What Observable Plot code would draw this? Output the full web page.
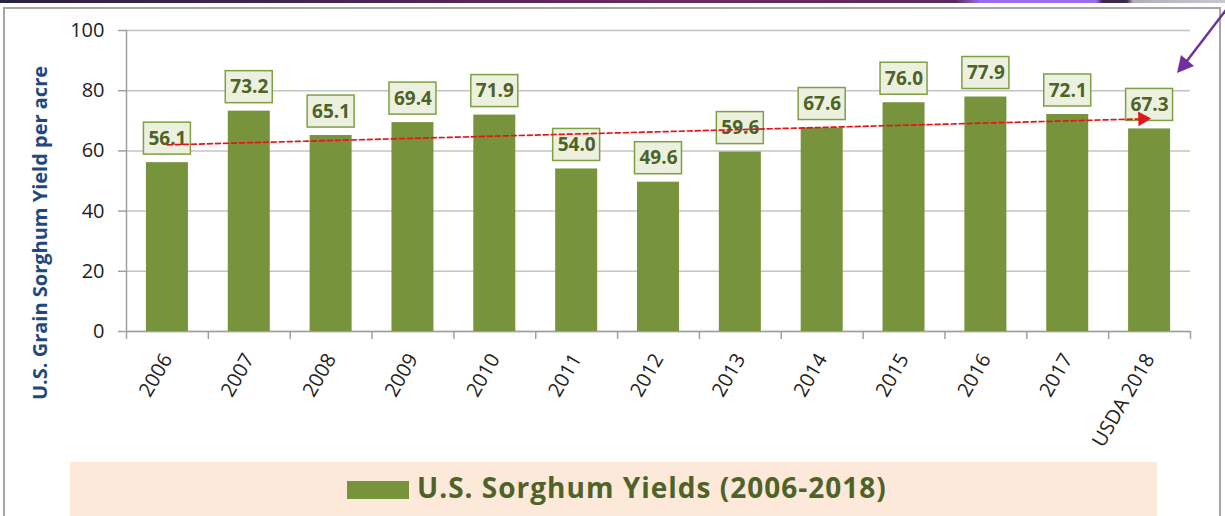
<!DOCTYPE html>
<html>
<head>
<meta charset="utf-8">
<script src="https://cdn.jsdelivr.net/npm/d3@7"></script>
<script src="https://cdn.jsdelivr.net/npm/@observablehq/plot@0.6"></script>
<style>
  html, body { margin: 0; padding: 0; background: #fff; }
  #wrap { position: relative; width: 1225px; height: 516px; overflow: hidden; font-family: "Open Sans", sans-serif; }
  #topstrip { position: absolute; left: 0; top: 0; width: 1225px; height: 3px;
    background: linear-gradient(90deg, #2b2140 0%, #4a2456 30%, #6b2a62 55%, #5a2a5e 78%, #9a6af0 80%, #9a6af0 89.5%, #3a2a4a 90%, #3a2a4a 92%, #b0b0b8 92.5%, #c8c8d0 100%); }
  #frame { position: absolute; left: 3px; top: 7px; width: 1218px; height: 560px; border: 2px solid #a6a6a6; box-sizing: border-box; }
  #chart { position: absolute; left: 0; top: 0; }
  #legend { position: absolute; left: 70px; top: 462px; width: 1087px; height: 54px; background: #fde9d9; }
  #legend .sw { position: absolute; left: 277px; top: 19px; width: 62px; height: 18px; background: #77933c; }
  #legend .tx { position: absolute; left: 347px; top: 8px; font-weight: 700; font-size: 28px; letter-spacing: 1px; line-height: 35px; color: #4f6228; white-space: nowrap; }
  #deco { position: absolute; left: 0; top: 0; pointer-events: none; }
</style>
</head>
<body>
<div id="wrap">
  <div id="topstrip"></div>
  <div id="frame"></div>
  <div id="chart"></div>
  <div id="legend"><div class="sw"></div><div class="tx">U.S. Sorghum Yields (2006-2018)</div></div>
  <svg id="deco" width="1225" height="516">
    <line x1="1226" y1="10" x2="1183" y2="66" stroke="#7030a0" stroke-width="2.5"/>
    <polygon points="1177,73 1181,55 1194,66" fill="#7030a0"/>
  </svg>
</div>
<script>
// ---- data ----
const years = ["2006","2007","2008","2009","2010","2011","2012","2013","2014","2015","2016","2017","USDA 2018"];
const yields = [56.1, 73.2, 65.1, 69.4, 71.9, 54.0, 49.6, 59.6, 67.6, 76.0, 77.9, 72.1, 67.3];
const yTicks = [0, 20, 40, 60, 80, 100];
const trendYears = ["2006", "USDA 2018"];
const trendValues = [62.0, 70.7];
const yLabel = "U.S. Grain Sorghum Yield per acre";

const data = years.map((y, i) => ({year: y, value: yields[i]}));
const trend = trendYears.map((y, i) => ({year: y, value: trendValues[i]}));

const W = 1225, H = 460, ML = 126, MR = 35, MT = 30, MB = 129;
const step = (W - ML - MR) / years.length;

const chart = Plot.plot({
  width: W, height: H,
  marginLeft: ML, marginRight: MR, marginTop: MT, marginBottom: MB,
  style: {fontFamily: "'Open Sans', sans-serif", color: "#222", background: "transparent"},
  x: {domain: years, paddingInner: 0.487, paddingOuter: 0.2435, round: false, label: null},
  y: {domain: [0, 100], label: null},
  marks: [
    Plot.gridY(yTicks, {stroke: "#c4c4c4", strokeOpacity: 1, strokeWidth: 1.5}),
    Plot.frame({anchor: "left", stroke: "#a0a0a0", strokeWidth: 1.5}),
    Plot.ruleY([0], {stroke: "#a0a0a0", strokeWidth: 1.5}),
    // category boundary ticks below the x axis
    Plot.ruleX(years, {x: d => d, y1: 0, y2: 0, insetBottom: -8, dx: -step / 2, stroke: "#a0a0a0", strokeWidth: 1.5}),
    Plot.ruleX(years.slice(-1), {x: d => d, y1: 0, y2: 0, insetBottom: -8, dx: step / 2, stroke: "#a0a0a0", strokeWidth: 1.5}),
    Plot.barY(data, {x: "year", y: "value", fill: "#77933c"}),
    Plot.barY(data, {x: "year", y1: "value", y2: "value", dy: -24,
      insetTop: -16, insetBottom: -16, insetLeft: -2.5, insetRight: -2.5,
      fill: "#ebf1de", stroke: "#7f9f45", strokeWidth: 1.5}),
    Plot.text(data, {x: "year", y: "value", dy: -24, text: d => d.value.toFixed(1),
      fontSize: 19, fontWeight: "bold", fill: "#4f6228", lineAnchor: "middle"}),
    Plot.line(trend, {x: "year", y: "value", stroke: "#e0181b", strokeWidth: 1.7, strokeDasharray: "5,3"}),
    Plot.dot(trend.slice(1), {x: "year", y: "value", symbol: "triangle", r: 5.5, rotate: 88.5, dx: -7,
      fill: "#e0181b", stroke: "none"}),
    Plot.axisY(yTicks, {tickSize: 8, tickPadding: 14, fontSize: 20, stroke: "#a0a0a0", strokeWidth: 1.5, fill: "#222"}),
    Plot.axisX({tickSize: 0, tickPadding: 24, tickRotate: -60, fontSize: 20, fill: "#222"}),
    Plot.text([yLabel], {frameAnchor: "left", textAnchor: "middle", rotate: -90, dx: -86, dy: 52,
      fontSize: 20, fontWeight: "bold", fill: "#1f497d"})
  ]
});
document.getElementById("chart").appendChild(chart);
</script>
</body>
</html>
